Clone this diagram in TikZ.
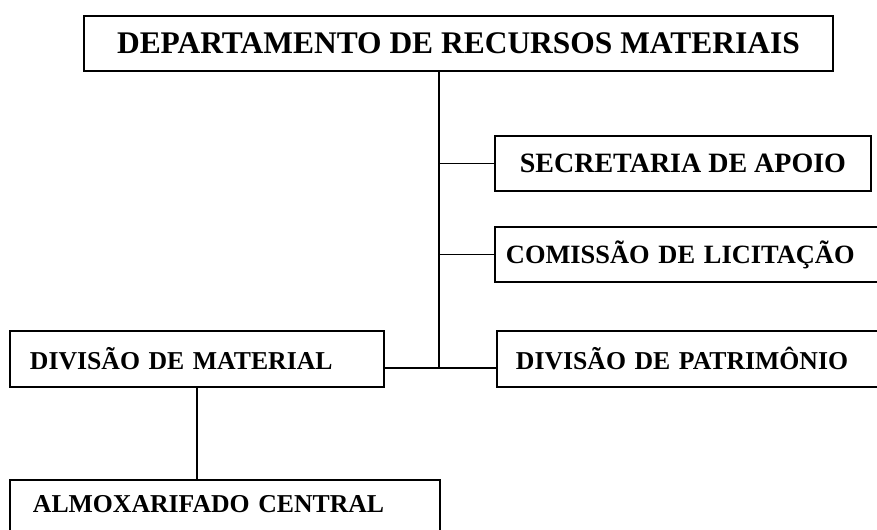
\documentclass[tikz,border=0pt]{standalone}
\usepackage{fontspec}
\setmainfont{Liberation Serif}
\begin{document}
\begin{tikzpicture}[x=0.75pt, y=-0.75pt, line width=1.2pt,
  unit node/.style={rectangle, draw, line width=1.4pt, anchor=north west, minimum height=41.25pt, font=\bfseries\fontsize{19.3}{23}\selectfont},
  left node/.style={unit node, align=left}]
\useasboundingbox (0,0) rectangle (877,529);
\begin{scope}
\node[unit node, minimum width=561.75pt, font=\bfseries\fontsize{23.6}{28}\selectfont] (dept) at (83,15) {DEPARTAMENTO DE RECURSOS MATERIAIS};
\node[unit node, minimum width=282pt, font=\bfseries\fontsize{21}{25}\selectfont] (sec) at (494,135) {SECRETARIA DE APOIO};
\node[left node, inner xsep=8.25pt, text width=290pt, font=\bfseries\fontsize{19.8}{24}\selectfont] (com) at (494,226) {COMISSÃO DE LICITAÇÃO};
\node[left node, inner xsep=14.25pt, text width=285pt, minimum height=42pt] (pat) at (496,330) {DIVISÃO DE PATRIMÔNIO};
\node[left node, inner xsep=15pt, text width=250.5pt, minimum height=42pt] (mat) at (9,330) {DIVISÃO DE MATERIAL};
\node[left node, inner xsep=17.25pt, text width=288pt, inner ysep=6pt, text height=18.75pt, text depth=20pt] (alm) at (9,479) {ALMOXARIFADO CENTRAL};
\coordinate (j) at (439,368);
\end{scope}
\begin{scope}
\draw (j |- dept.south) -- (j);
\draw (j |- sec.west) -- (sec.west);
\draw (j |- com.west) -- (com.west);
\draw (mat.east |- j) -- (pat.west |- j);
\draw (mat.south) -- (mat.south |- alm.north);
\end{scope}
\end{tikzpicture}
\end{document}
